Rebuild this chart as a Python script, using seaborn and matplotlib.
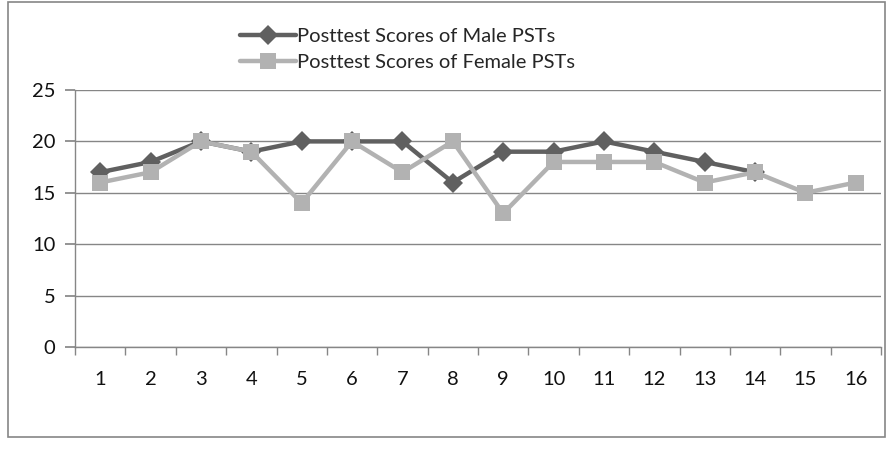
import matplotlib.pyplot as plt
import matplotlib.patches as mpatches
import pandas as pd
import seaborn as sns

# Data
participants = list(range(1, 17))
male_scores = [17, 18, 20, 19, 20, 20, 20, 16, 19, 19, 20, 19, 18, 17]
female_scores = [16, 17, 20, 19, 14, 20, 17, 20, 13, 18, 18, 18, 16, 17, 15, 16]
male_label = "Posttest Scores of Male PSTs"
female_label = "Posttest Scores of Female PSTs"

df_male = pd.DataFrame({"x": participants[:len(male_scores)], "y": male_scores})
df_female = pd.DataFrame({"x": participants, "y": female_scores})

sns.set_theme(style="white")
plt.rcParams["font.family"] = ["Lato", "DejaVu Sans"]

fig = plt.figure(figsize=(8.94, 4.5), dpi=100)
ax = fig.add_axes([75 / 894, 1 - 347 / 450, 806 / 894, 257 / 450])

# outer chart border
fig.patches.append(mpatches.Rectangle(
   (8 / 894, 1 - 437 / 450), 877 / 894, 435 / 450,
   transform=fig.transFigure, fill=False, edgecolor="#868686", linewidth=1.2))

sns.lineplot(data=df_male, x="x", y="y", ax=ax, color="#606060",
             linewidth=3.2, marker="D", markersize=10, markeredgewidth=0,
             label=male_label)
sns.lineplot(data=df_female, x="x", y="y", ax=ax, color="#b2b2b2",
             linewidth=3.2, marker="s", markersize=12, markeredgewidth=0,
             label=female_label)

ax.set_xlim(0.5, 16.5)
ax.set_ylim(0, 25)
ax.set_yticks([0, 5, 10, 15, 20, 25])
ax.set_xticks(participants)
ax.set_xticks([i + 0.5 for i in range(0, 17)], minor=True)
ax.tick_params(axis="x", which="major", length=0, pad=17, labelsize=14.5,
               labelcolor="#111111")
ax.tick_params(axis="x", which="minor", length=6, color="#868686",
               direction="out", bottom=True)
ax.tick_params(axis="y", length=7, color="#868686", direction="out",
               left=True, pad=7, labelsize=14.5, labelcolor="#111111")
ax.yaxis.grid(True, color="#868686", linewidth=1)
ax.set_axisbelow(True)
for side in ["top", "right"]:
   ax.spines[side].set_visible(False)
for side in ["left", "bottom"]:
   ax.spines[side].set_color("#868686")
   ax.spines[side].set_linewidth(1)
ax.set_xlabel("")
ax.set_ylabel("")

ax.legend(loc="upper left", bbox_to_anchor=(240 / 894, 1 - 28 / 450),
          bbox_transform=fig.transFigure, frameon=False, fontsize=14.5,
          handlelength=2.8, handletextpad=0.05, labelspacing=0.45,
          borderaxespad=0, borderpad=0)

fig.savefig("out.png", dpi=100)
